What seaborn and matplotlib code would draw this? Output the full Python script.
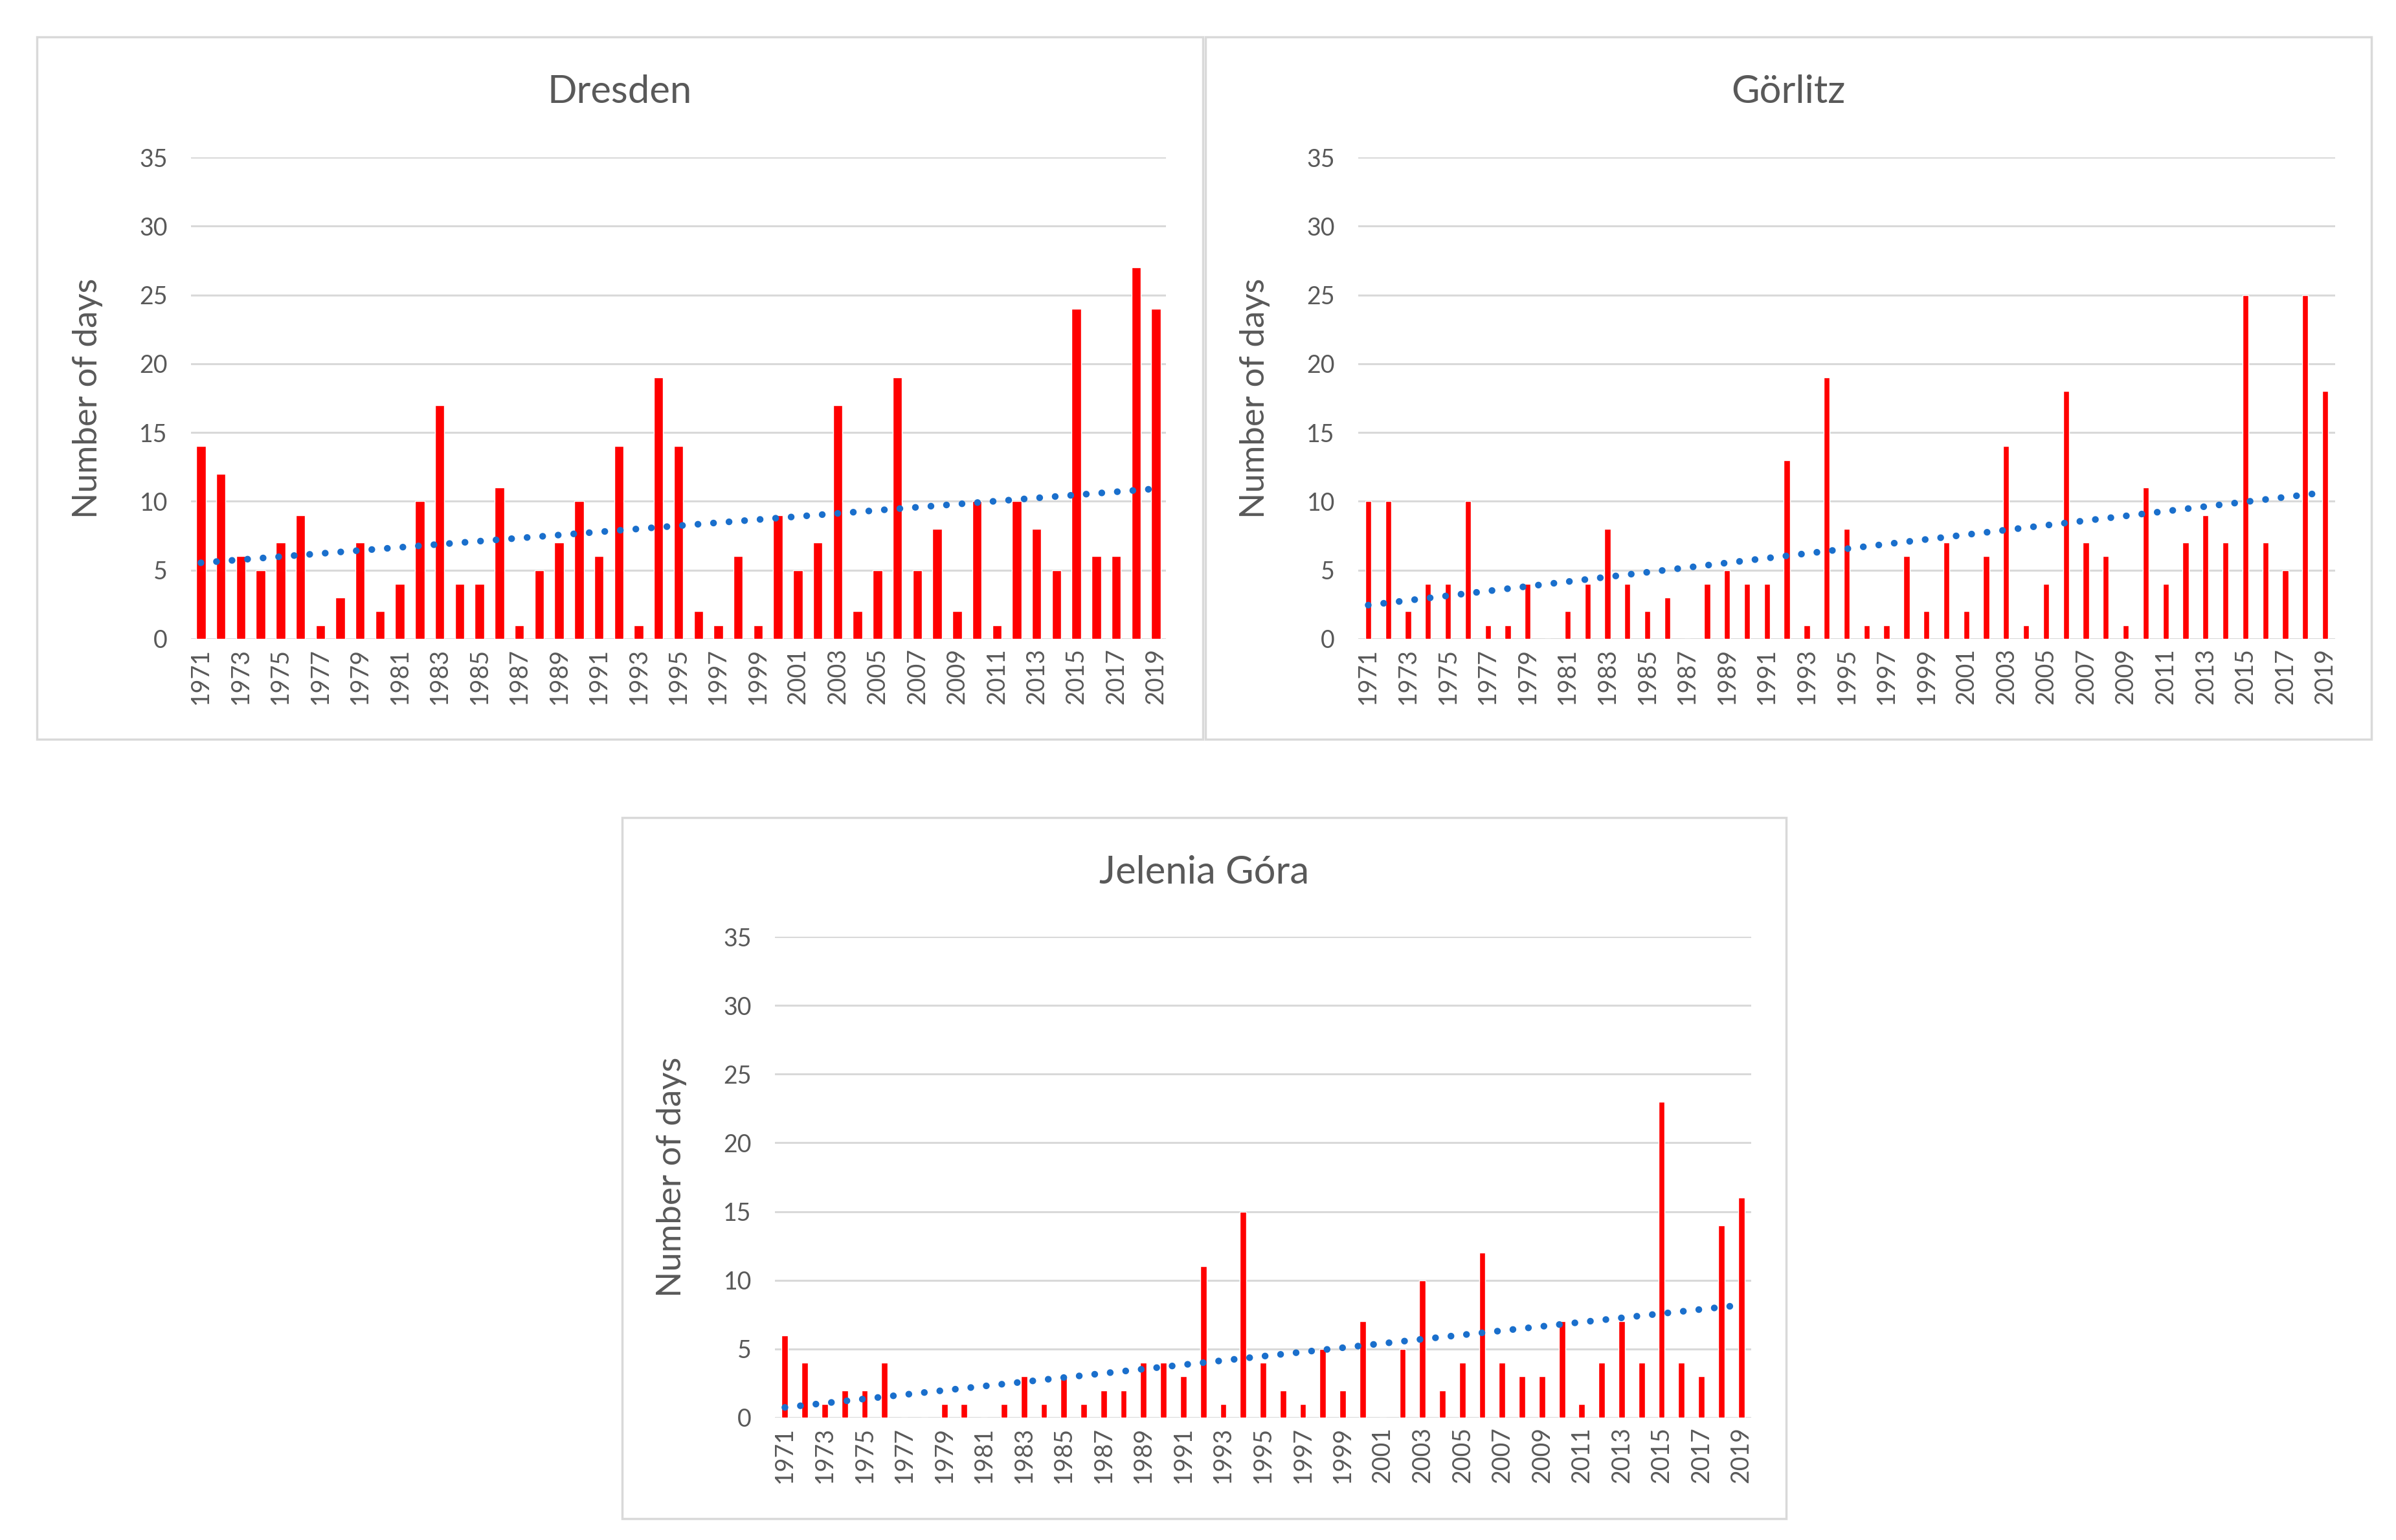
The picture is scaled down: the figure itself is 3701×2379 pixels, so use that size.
import matplotlib.pyplot as plt
from matplotlib.patches import Rectangle
import seaborn as sns
import numpy as np
import pandas as pd

years = list(range(1971, 2020))

# number of days per year
dresden = [14, 12, 6, 5, 7, 9, 1, 3, 7, 2, 4, 10, 17, 4, 4, 11, 1, 5, 7, 10,
           6, 14, 1, 19, 14, 2, 1, 6, 1, 9, 5, 7, 17, 2, 5, 19, 5, 8, 2, 10,
           1, 10, 8, 5, 24, 6, 6, 27, 24]
goerlitz = [10, 10, 2, 4, 4, 10, 1, 1, 4, 0, 2, 4, 8, 4, 2, 3, 0, 4, 5, 4,
            4, 13, 1, 19, 8, 1, 1, 6, 2, 7, 2, 6, 14, 1, 4, 18, 7, 6, 1, 11,
            4, 7, 9, 7, 25, 7, 5, 25, 18]
jelenia = [6, 4, 1, 2, 2, 4, 0, 0, 1, 1, 0, 1, 3, 1, 3, 1, 2, 2, 4, 4,
           3, 11, 1, 15, 4, 2, 1, 5, 2, 7, 0, 5, 10, 2, 4, 12, 4, 3, 3, 7,
           1, 4, 7, 4, 23, 4, 3, 14, 16]

titles = ["Dresden", "Görlitz", "Jelenia Góra"]
series = [dresden, goerlitz, jelenia]

W, H = 3701, 2379
GREY = "#595959"
GRID = "#d9d9d9"
BAR = "#ff0000"
TREND = "#1a6fcc"

sns.set_theme(style="white")
plt.rcParams["font.family"] = ["Lato", "DejaVu Sans"]

fig = plt.figure(figsize=(W / 100, H / 100), dpi=100)

# plot areas (left, top, right, bottom) and frames in pixels
plot_px = [(295, 243, 1801, 987), (2098, 243, 3607, 987), (1197, 1447, 2705, 2190)]
box_px = [(57, 57, 1858, 1142), (1862, 57, 3663, 1142), (961, 1263, 2759, 2346)]
bar_w = [0.47, 0.30, 0.32]

for title, vals, (l, t, r, b), (bl, bt, br, bb), bw in zip(titles, series, plot_px, box_px, bar_w):
    fig.add_artist(Rectangle((bl / W, 1 - bb / H), (br - bl) / W, (bb - bt) / H,
                             transform=fig.transFigure, fill=False,
                             edgecolor=GRID, lw=2.5))
    fig.text((bl + br) / 2 / W, 1 - (bt + 85) / H, title, ha="center",
             va="center", fontsize=43, color=GREY)

    ax = fig.add_axes([l / W, 1 - b / H, (r - l) / W, (b - t) / H])
    df = pd.DataFrame({"year": [str(y) for y in years], "days": vals})
    sns.barplot(data=df, x="year", y="days", color=BAR, saturation=1,
                width=bw, ax=ax)
    idx = np.arange(len(vals))
    sns.regplot(x=idx, y=np.array(vals, dtype=float), scatter=False, ci=None,
                ax=ax, line_kws=dict(color=TREND, lw=7.5, dashes=(0.01, 2.3),
                                     dash_capstyle="round"))

    ax.set_xlim(-0.5, len(vals) - 0.5)
    ax.set_ylim(0, 35)
    ax.set_yticks(range(0, 36, 5))
    ax.set_xticks(range(0, len(years), 2))
    ax.set_xticklabels([str(y) for y in years[::2]], rotation=90)
    ax.yaxis.grid(True, color=GRID, lw=2.2)
    ax.set_axisbelow(True)
    for s in ax.spines.values():
        s.set_visible(False)
    ax.tick_params(axis="both", length=0, labelsize=27, colors=GREY)
    ax.tick_params(axis="y", pad=26)
    ax.tick_params(axis="x", pad=10)
    ax.set_xlabel("")
    ax.set_ylabel("Number of days", fontsize=38, color=GREY)
    ax.yaxis.set_label_coords(-0.09, 0.5)

fig.savefig("out.png", dpi=100, facecolor="white")
